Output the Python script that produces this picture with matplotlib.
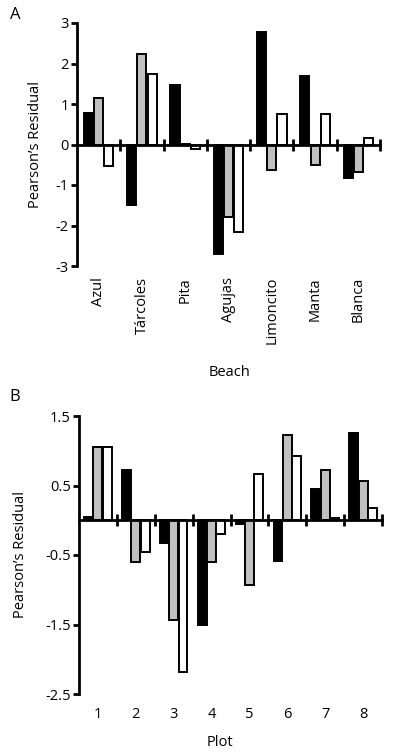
import matplotlib
matplotlib.use('Agg')
import matplotlib.pyplot as plt
import matplotlib.transforms as mtransforms
import numpy as np

plt.rcParams['font.family'] = ['Open Sans', 'DejaVu Sans']

# ---- data ----
beaches = ['Azul', 'Tárcoles', 'Pita', 'Agujas', 'Limoncito', 'Manta', 'Blanca']
beach_black = [0.78, -1.50, 1.48, -2.70, 2.77, 1.68, -0.83]
beach_gray = [1.15, 2.23, 0.02, -1.80, -0.63, -0.51, -0.67]
beach_white = [-0.52, 1.75, -0.10, -2.17, 0.76, 0.75, 0.15]

plots = ['1', '2', '3', '4', '5', '6', '7', '8']
plot_black = [0.04, 0.73, -0.33, -1.51, -0.05, -0.58, 0.45, 1.25]
plot_gray = [1.06, -0.60, -1.43, -0.60, -0.93, 1.22, 0.73, 0.57]
plot_white = [1.05, -0.45, -2.19, -0.20, 0.67, 0.93, 0.03, 0.18]

fill_colors = ['black', '#c0c0c0', 'white']
FS = 10.5

fig = plt.figure(figsize=(3.94, 7.56), dpi=100)


def residual_panel(ax, labels, series, offset, width, ylim, yticks, ytick_labels,
                   rotate, xlab, xlab_y, label_gap):
    n = len(labels)
    centers = np.arange(n) + 0.5
    for k, vals in enumerate(series):
        ax.bar(centers + (k - 1) * offset, vals, width, color=fill_colors[k],
               edgecolor='black', linewidth=1.4, zorder=2)
    ax.set_xlim(0, n)
    ax.set_ylim(*ylim)
    ax.spines['top'].set_visible(False)
    ax.spines['right'].set_visible(False)
    ax.spines['left'].set_linewidth(2)
    ax.spines['bottom'].set_linewidth(2)
    ax.spines['bottom'].set_position(('data', 0))
    ax.spines['bottom'].set_zorder(3)
    ax.set_xticks(np.arange(1, n + 1))
    ax.set_xticklabels([])
    ax.tick_params(axis='x', direction='inout', length=8, width=2)
    ax.set_yticks(yticks)
    ax.set_yticklabels(ytick_labels, fontsize=FS)
    ax.tick_params(axis='y', direction='out', length=4, width=2, pad=2)
    trans = mtransforms.blended_transform_factory(ax.transData, ax.transAxes)
    for c, lab in zip(centers, labels):
        ax.text(c, -label_gap, lab, transform=trans, rotation=90 if rotate else 0,
                ha='center', va='top', fontsize=FS)
    ax.set_ylabel("Pearson’s Residual", fontsize=FS)
    fig.text(xlab[0], xlab[1], xlab_y, ha='center', va='center', fontsize=FS)


axA = fig.add_axes([77 / 394, 1 - 266 / 756, 303 / 394, 243 / 756])
residual_panel(axA, beaches, [beach_black, beach_gray, beach_white], 0.235, 0.21,
               (-3, 3), [-3, -2, -1, 0, 1, 2, 3], ['-3', '-2', '-1', '0', '1', '2', '3'],
               True, (230 / 394, 1 - 373 / 756), 'Beach', 0.045)
axA.yaxis.set_label_coords(-0.112, 0.5)

axB = fig.add_axes([79 / 394, 1 - 694 / 756, 303 / 394, 278 / 756])
residual_panel(axB, plots, [plot_black, plot_gray, plot_white], 0.245, 0.235,
               (-2.5, 1.5), [-2.5, -1.5, -0.5, 0.5, 1.5], ['-2.5', '-1.5', '-0.5', '0.5', '1.5'],
               False, (220 / 394, 1 - 742 / 756), 'Plot', 0.045)
axB.yaxis.set_label_coords(-0.168, 0.5)

fig.text(15 / 394, 1 - 15 / 756, 'A', ha='center', va='center', fontsize=12)
fig.text(15 / 394, 1 - 397 / 756, 'B', ha='center', va='center', fontsize=12)

fig.savefig('out.png', dpi=100)
